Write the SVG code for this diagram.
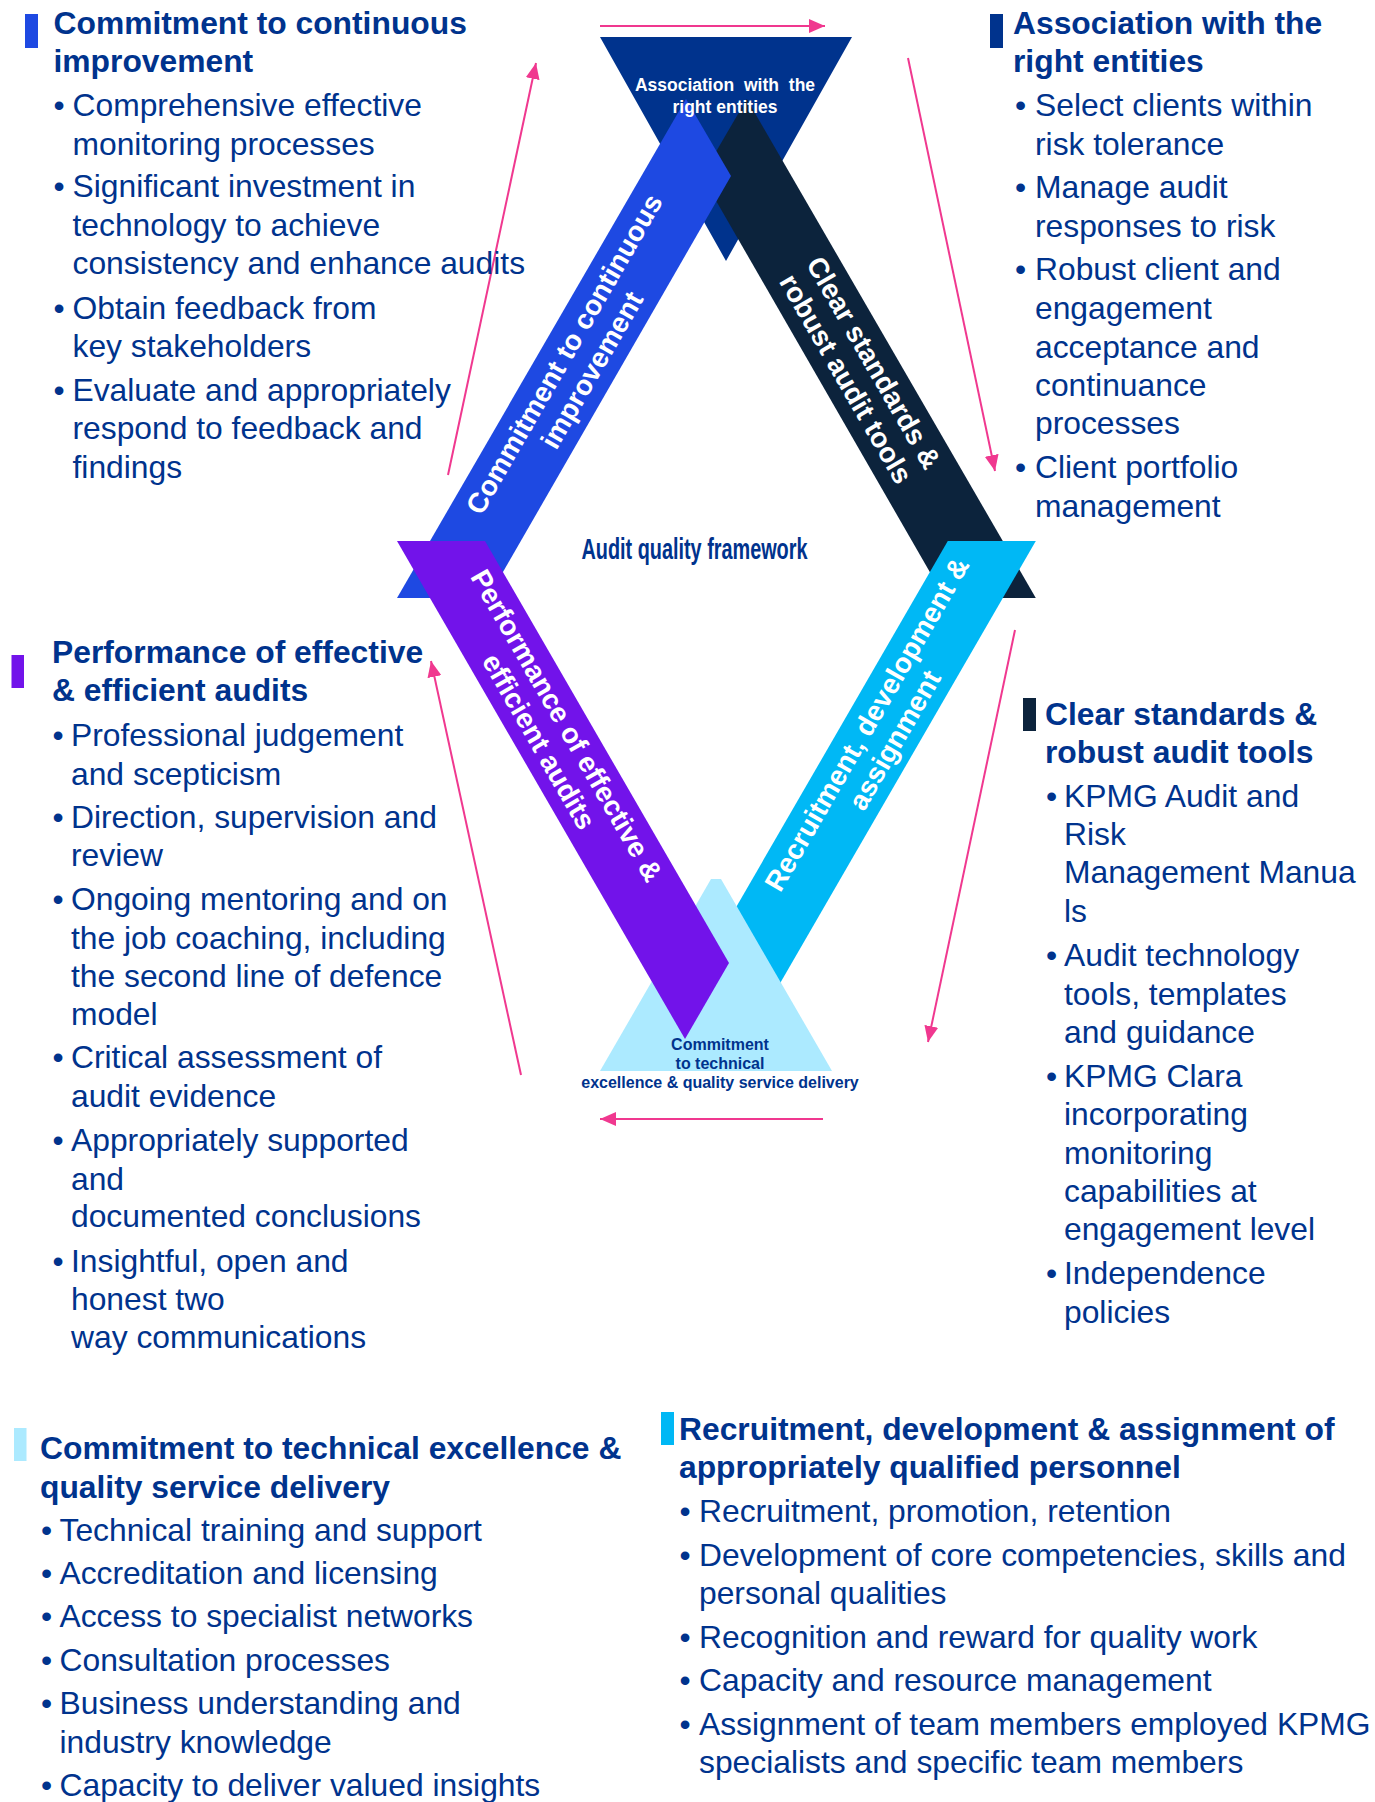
<svg xmlns="http://www.w3.org/2000/svg" width="1375" height="1802" viewBox="0 0 1375 1802">
<style>
  .t{font-family:"Liberation Sans",Arial,sans-serif;font-size:31.8px;fill:#00338D}
  .h{font-weight:bold}
  .band{font-family:"Liberation Sans",Arial,sans-serif;font-size:28px;font-weight:bold;fill:#FFFFFF;text-anchor:middle}
  .small{font-family:"Liberation Sans",Arial,sans-serif;font-weight:bold;text-anchor:middle}
  .conn{stroke:#F0388F;stroke-width:2;fill:none;marker-end:url(#ah)}
</style>
<defs>
  <marker id="ah" viewBox="0 0 16 14" refX="16" refY="7" markerWidth="16" markerHeight="14" markerUnits="userSpaceOnUse" orient="auto">
    <path d="M0,0 L16,7 L0,14 Z" fill="#F0388F"/>
  </marker>
</defs>
<rect width="1375" height="1802" fill="#FFFFFF"/>

<!-- central graphic -->
<g id="node-association-triangle">
  <polygon points="600,37 852,37 726,261" fill="#00338D"/>
</g>
<g id="node-band-standards">
  <polygon points="1035.8,598 746.8,99 701.8,176 944.8,598" fill="#0C233C"/>
  <g transform="translate(859.3,371.1) rotate(60)">
    <text class="band" x="0" y="-7">Clear standards &amp;</text>
    <text class="band" x="0" y="25">robust audit tools</text>
  </g>
</g>
<g id="node-band-continuous">
  <polygon points="397,598 686,99 731,176 488,598" fill="#1E49E2"/>
  <g transform="translate(578.5,362.4) rotate(-60)">
    <text class="band" x="0" y="-7">Commitment to continuous</text>
    <text class="band" x="0" y="25">improvement</text>
  </g>
</g>
<g id="node-band-recruitment">
  <polygon points="1035.8,541 947.8,541 703.8,963 747.8,1039" fill="#00B8F5"/>
  <g transform="translate(881.3,732.4) rotate(-60)">
    <text class="band" x="0" y="-7">Recruitment, development &amp;</text>
    <text class="band" x="0" y="25">assignment</text>
  </g>
</g>
<g id="node-technical-triangle">
  <polygon points="711,879 721,879 832,1071 600,1071" fill="#ACEAFF"/>
</g>
<g id="node-band-performance">
  <polygon points="397,541 485,541 729,963 685,1039" fill="#7213EA"/>
  <g transform="translate(552.3,733.8) rotate(60)">
    <text class="band" x="0" y="-7">Performance of effective &amp;</text>
    <text class="band" x="0" y="25">efficient audits</text>
  </g>
</g>
<g id="label-association">
  <text class="small" x="725" y="90.5" font-size="17.5" word-spacing="5" fill="#FFFFFF">Association with the</text>
  <text class="small" x="725" y="112.5" font-size="17.5" fill="#FFFFFF">right entities</text>
</g>
<g id="label-technical">
  <text class="small" x="720" y="1050" font-size="16" fill="#00338D">Commitment</text>
  <text class="small" x="720" y="1068.5" font-size="16" fill="#00338D">to technical</text>
  <text class="small" x="720" y="1087.5" font-size="16" fill="#00338D">excellence &amp; quality service delivery</text>
</g>
<g id="label-framework">
  <text class="small" x="694.5" y="559" font-size="29" fill="#00338D" textLength="226" lengthAdjust="spacingAndGlyphs">Audit quality framework</text>
</g>

<!-- connectors -->
<g id="connectors">
  <path class="conn" d="M600,26 L825,26"/>
  <path class="conn" d="M908,58 L995,471"/>
  <path class="conn" d="M448,475 L536,63"/>
  <path class="conn" d="M521,1075 L431,661"/>
  <path class="conn" d="M1015,630 L928,1042"/>
  <path class="conn" d="M823,1119 L600,1119"/>
</g>

<!-- Block 1 -->
<g id="node-text-continuous">
  <rect x="25" y="14" width="13" height="34" fill="#1E49E2"/>
  <text class="t h" x="53.5" y="34">Commitment to continuous</text>
  <text class="t h" x="53.5" y="72">improvement</text>
  <text class="t">
    <tspan x="53.5" y="115.5">•</tspan><tspan x="72.5" y="115.5">Comprehensive effective</tspan>
    <tspan x="72.5" y="154.5">monitoring processes</tspan>
    <tspan x="53.5" y="197">•</tspan><tspan x="72.5" y="197">Significant investment in</tspan>
    <tspan x="72.5" y="236">technology to achieve</tspan>
    <tspan x="72.5" y="274">consistency and enhance audits</tspan>
    <tspan x="53.5" y="319">•</tspan><tspan x="72.5" y="319">Obtain feedback from</tspan>
    <tspan x="72.5" y="357">key stakeholders</tspan>
    <tspan x="53.5" y="401">•</tspan><tspan x="72.5" y="401">Evaluate and appropriately</tspan>
    <tspan x="72.5" y="439">respond to feedback and</tspan>
    <tspan x="72.5" y="477.5">findings</tspan>
  </text>
</g>

<!-- Block 2 -->
<g id="node-text-association">
  <rect x="990" y="14" width="13" height="34" fill="#00338D"/>
  <text class="t h" x="1013" y="34">Association with the</text>
  <text class="t h" x="1013" y="72">right entities</text>
  <text class="t">
    <tspan x="1015" y="115.5">•</tspan><tspan x="1035" y="115.5">Select clients within</tspan>
    <tspan x="1035" y="155">risk tolerance</tspan>
    <tspan x="1015" y="198">•</tspan><tspan x="1035" y="198">Manage audit</tspan>
    <tspan x="1035" y="236.5">responses to risk</tspan>
    <tspan x="1015" y="279.5">•</tspan><tspan x="1035" y="279.5">Robust client and</tspan>
    <tspan x="1035" y="319">engagement</tspan>
    <tspan x="1035" y="357.5">acceptance and</tspan>
    <tspan x="1035" y="396">continuance</tspan>
    <tspan x="1035" y="434">processes</tspan>
    <tspan x="1015" y="478">•</tspan><tspan x="1035" y="478">Client portfolio</tspan>
    <tspan x="1035" y="517">management</tspan>
  </text>
</g>

<!-- Block 3 -->
<g id="node-text-performance">
  <rect x="11.5" y="655" width="12.5" height="33" fill="#7213EA"/>
  <text class="t h" x="52" y="663">Performance of effective</text>
  <text class="t h" x="52" y="701">&amp; efficient audits</text>
  <text class="t">
    <tspan x="52.5" y="745.5">•</tspan><tspan x="71" y="745.5">Professional judgement</tspan>
    <tspan x="71" y="785">and scepticism</tspan>
    <tspan x="52.5" y="827.5">•</tspan><tspan x="71" y="827.5">Direction, supervision and</tspan>
    <tspan x="71" y="866">review</tspan>
    <tspan x="52.5" y="909.5">•</tspan><tspan x="71" y="909.5">Ongoing mentoring and on</tspan>
    <tspan x="71" y="948.5">the job coaching, including</tspan>
    <tspan x="71" y="986.5">the second line of defence</tspan>
    <tspan x="71" y="1025">model</tspan>
    <tspan x="52.5" y="1068">•</tspan><tspan x="71" y="1068">Critical assessment of</tspan>
    <tspan x="71" y="1107">audit evidence</tspan>
    <tspan x="52.5" y="1151">•</tspan><tspan x="71" y="1151">Appropriately supported</tspan>
    <tspan x="71" y="1189.5">and</tspan>
    <tspan x="71" y="1227">documented conclusions</tspan>
    <tspan x="52.5" y="1271.5">•</tspan><tspan x="71" y="1271.5">Insightful, open and</tspan>
    <tspan x="71" y="1309.5">honest two</tspan>
    <tspan x="71" y="1348">way communications</tspan>
  </text>
</g>

<!-- Block 4 -->
<g id="node-text-standards">
  <rect x="1023" y="698" width="13" height="33" fill="#0C233C"/>
  <text class="t h" x="1045" y="725">Clear standards &amp;</text>
  <text class="t h" x="1045" y="763">robust audit tools</text>
  <text class="t">
    <tspan x="1046" y="806.5">•</tspan><tspan x="1064" y="806.5">KPMG Audit and</tspan>
    <tspan x="1064" y="845">Risk</tspan>
    <tspan x="1064" y="883">Management Manua</tspan>
    <tspan x="1064" y="922">ls</tspan>
    <tspan x="1046" y="966">•</tspan><tspan x="1064" y="966">Audit technology</tspan>
    <tspan x="1064" y="1005">tools, templates</tspan>
    <tspan x="1064" y="1043">and guidance</tspan>
    <tspan x="1046" y="1087">•</tspan><tspan x="1064" y="1087">KPMG Clara</tspan>
    <tspan x="1064" y="1125">incorporating</tspan>
    <tspan x="1064" y="1164">monitoring</tspan>
    <tspan x="1064" y="1201.5">capabilities at</tspan>
    <tspan x="1064" y="1240">engagement level</tspan>
    <tspan x="1046" y="1284">•</tspan><tspan x="1064" y="1284">Independence</tspan>
    <tspan x="1064" y="1323">policies</tspan>
  </text>
</g>

<!-- Block 5 -->
<g id="node-text-technical">
  <rect x="14" y="1428" width="12.5" height="33" fill="#ACEAFF"/>
  <text class="t h" x="40" y="1459">Commitment to technical excellence &amp;</text>
  <text class="t h" x="40" y="1497.5">quality service delivery</text>
  <text class="t">
    <tspan x="41" y="1541">•</tspan><tspan x="59.5" y="1541">Technical training and support</tspan>
    <tspan x="41" y="1584">•</tspan><tspan x="59.5" y="1584">Accreditation and licensing</tspan>
    <tspan x="41" y="1627">•</tspan><tspan x="59.5" y="1627">Access to specialist networks</tspan>
    <tspan x="41" y="1671">•</tspan><tspan x="59.5" y="1671">Consultation processes</tspan>
    <tspan x="41" y="1714">•</tspan><tspan x="59.5" y="1714">Business understanding and</tspan>
    <tspan x="59.5" y="1753">industry knowledge</tspan>
    <tspan x="41" y="1796">•</tspan><tspan x="59.5" y="1796">Capacity to deliver valued insights</tspan>
  </text>
</g>

<!-- Block 6 -->
<g id="node-text-recruitment">
  <rect x="661" y="1412" width="13" height="33" fill="#00B8F5"/>
  <text class="t h" x="679" y="1440">Recruitment, development &amp; assignment of</text>
  <text class="t h" x="679" y="1478">appropriately qualified personnel</text>
  <text class="t">
    <tspan x="679.5" y="1522">•</tspan><tspan x="699" y="1522">Recruitment, promotion, retention</tspan>
    <tspan x="679.5" y="1566">•</tspan><tspan x="699" y="1566">Development of core competencies, skills and</tspan>
    <tspan x="699" y="1604">personal qualities</tspan>
    <tspan x="679.5" y="1648">•</tspan><tspan x="699" y="1648">Recognition and reward for quality work</tspan>
    <tspan x="679.5" y="1691">•</tspan><tspan x="699" y="1691">Capacity and resource management</tspan>
    <tspan x="679.5" y="1735">•</tspan><tspan x="699" y="1735">Assignment of team members employed KPMG</tspan>
    <tspan x="699" y="1773">specialists and specific team members</tspan>
  </text>
</g>
</svg>
